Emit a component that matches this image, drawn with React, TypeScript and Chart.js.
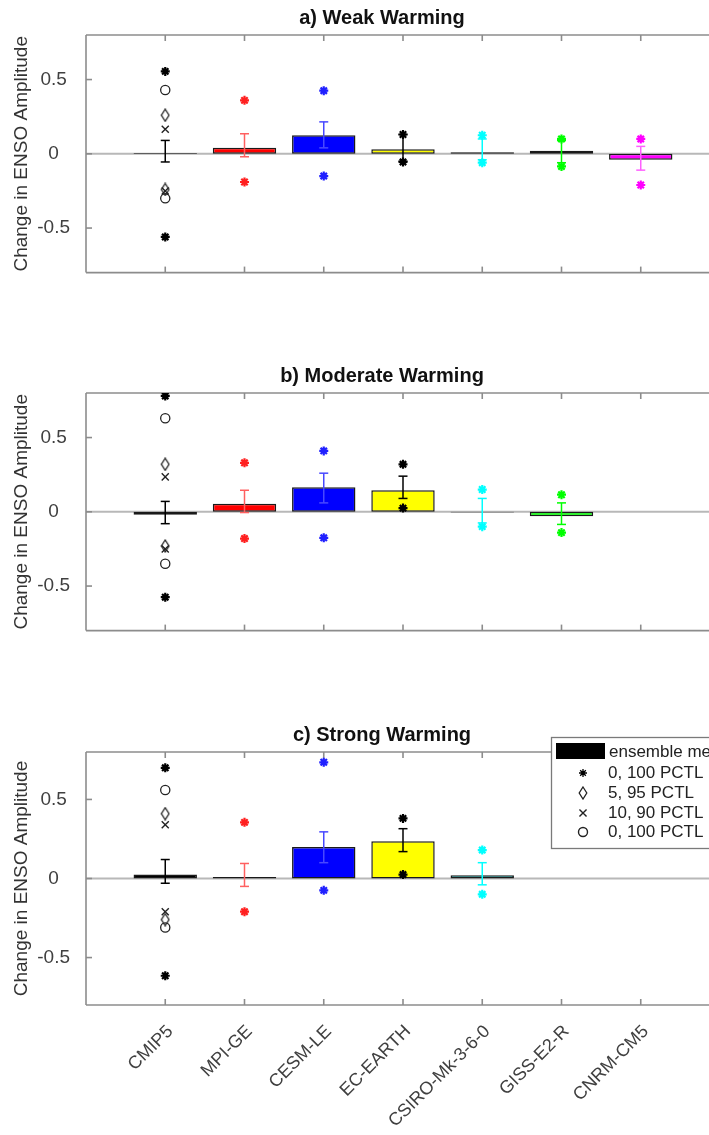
import React, { useEffect, useRef } from 'react';
import { Chart, registerables } from 'chart.js';
import { drawPoint } from 'chart.js/helpers';

Chart.register(...registerables);

// ---------------- data ----------------
const models = ['CMIP5', 'MPI-GE', 'CESM-LE', 'EC-EARTH', 'CSIRO-Mk-3-6-0', 'GISS-E2-R', 'CNRM-CM5'];
const yTickValues = [-0.5, 0, 0.5];
const yMin = -0.8;
const yMax = 0.8;

const barColors = ['#000000', '#ff0000', '#0000ff', '#ffff00', '#00ffff', '#00ff00', '#ff00ff'];
const whiskerColors = ['#000000', '#ff6060', '#4848ff', '#000000', '#00ffff', '#00ff00', '#ff60ff'];
const extremeColors = ['#000000', '#ff2020', '#2020ff', '#000000', '#00ffff', '#00ff00', '#ff00ff'];

// a) Weak warming
const meanWeak = [0.005, 0.04, 0.125, 0.03, 0.01, 0.02, -0.04];
const loWeak = [-0.055, -0.02, 0.04, -0.05, -0.04, -0.06, -0.11];
const hiWeak = [0.09, 0.135, 0.215, 0.13, 0.10, 0.09, 0.05];
const maxWeak = [0.555, 0.36, 0.425, 0.13, 0.125, 0.10, 0.10];
const minWeak = [-0.56, -0.19, -0.15, -0.055, -0.06, -0.085, -0.21];
const circleWeak = [0.43, -0.30];
const diamondWeak = [0.26, -0.24];
const crossWeak = [0.165, -0.25];

// b) Moderate warming
const meanModerate = [-0.02, 0.055, 0.165, 0.145, -0.005, -0.03, null];
const loModerate = [-0.08, -0.005, 0.06, 0.09, -0.075, -0.085, null];
const hiModerate = [0.07, 0.145, 0.26, 0.24, 0.09, 0.06, null];
const maxModerate = [0.78, 0.33, 0.41, 0.32, 0.15, 0.115, null];
const minModerate = [-0.575, -0.18, -0.175, 0.025, -0.10, -0.14, null];
const circleModerate = [0.63, -0.35];
const diamondModerate = [0.32, -0.23];
const crossModerate = [0.235, -0.25];

// c) Strong warming
const meanStrong = [0.025, 0.01, 0.20, 0.235, 0.02, null, null];
const loStrong = [-0.03, -0.05, 0.10, 0.17, -0.04, null, null];
const hiStrong = [0.12, 0.095, 0.295, 0.315, 0.10, null, null];
const maxStrong = [0.70, 0.355, 0.735, 0.38, 0.18, null, null];
const minStrong = [-0.615, -0.21, -0.075, 0.025, -0.10, null, null];
const circleStrong = [0.56, -0.31];
const diamondStrong = [0.41, -0.26];
const crossStrong = [0.34, -0.21];

const titles = ['a) Weak Warming', 'b) Moderate Warming', 'c) Strong Warming'];
const yAxisTitle = 'Change in ENSO Amplitude';
const legendLabels = ['ensemble mean', '0, 100 PCTL', '5, 95 PCTL', '10, 90 PCTL', '0, 100 PCTL'];

// ---------------- styling / layout ----------------
const FONT = '"Liberation Sans", Arial, Helvetica, sans-serif';
Chart.defaults.font.family = FONT;

const xLabels = ['', ...models, ''];
const pad = (arr: any[], fill: any = null) => [fill, ...arr, fill];

type Panel = {
  title: string;
  mean: (number | null)[];
  lo: (number | null)[];
  hi: (number | null)[];
  max: (number | null)[];
  min: (number | null)[];
  circle: number[];
  diamond: number[];
  cross: number[];
  top: number;
  height: number;
  padTop: number;
  padBottom: number;
  xHeight: number;
  showX: boolean;
  legend: boolean;
};

const panels: Panel[] = [
  { title: titles[0], mean: meanWeak, lo: loWeak, hi: hiWeak, max: maxWeak, min: minWeak,
    circle: circleWeak, diamond: diamondWeak, cross: crossWeak,
    top: 0, height: 300, padTop: 35, padBottom: 8, xHeight: 0, showX: false, legend: false },
  { title: titles[1], mean: meanModerate, lo: loModerate, hi: hiModerate, max: maxModerate, min: minModerate,
    circle: circleModerate, diamond: diamondModerate, cross: crossModerate,
    top: 358, height: 300, padTop: 35, padBottom: 9, xHeight: 0, showX: false, legend: false },
  { title: titles[2], mean: meanStrong, lo: loStrong, hi: hiStrong, max: maxStrong, min: minStrong,
    circle: circleStrong, diamond: diamondStrong, cross: crossStrong,
    top: 717, height: 418, padTop: 35, padBottom: 0, xHeight: 130, showX: true, legend: true },
];

let diamondCache: HTMLCanvasElement | null = null;
function diamondImage(): HTMLCanvasElement {
  if (diamondCache) return diamondCache;
  const c = document.createElement('canvas');
  c.width = 10;
  c.height = 14;
  const g = c.getContext('2d')!;
  g.strokeStyle = '#222';
  g.lineWidth = 1.3;
  g.beginPath();
  g.moveTo(5, 1);
  g.lineTo(8.8, 7);
  g.lineTo(5, 13);
  g.lineTo(1.2, 7);
  g.closePath();
  g.stroke();
  diamondCache = c;
  return c;
}

function line(ctx: CanvasRenderingContext2D, x1: number, y1: number, x2: number, y2: number) {
  ctx.beginPath();
  ctx.moveTo(x1, y1);
  ctx.lineTo(x2, y2);
  ctx.stroke();
}

function makePlugin(p: Panel) {
  return {
    id: 'frame',
    beforeDatasetsDraw(chart: any) {
      const { ctx, chartArea: a, scales } = chart;
      const x = scales.x;
      const y = scales.y;
      ctx.save();
      // zero line
      const y0 = y.getPixelForValue(0);
      ctx.strokeStyle = '#b8b8b8';
      ctx.lineWidth = 2;
      line(ctx, a.left, y0, a.right, y0);
      // box (top, left, bottom)
      ctx.strokeStyle = '#8c8c8c';
      ctx.lineWidth = 1.6;
      line(ctx, a.left, a.top, a.right, a.top);
      line(ctx, a.left, a.top, a.left, a.bottom);
      line(ctx, a.left, a.bottom, a.right, a.bottom);
      // inward ticks
      for (let i = 1; i <= models.length; i++) {
        const px = x.getPixelForValue(i);
        line(ctx, px, a.top, px, a.top + 6);
        line(ctx, px, a.bottom, px, a.bottom - 6);
      }
      yTickValues.forEach((v) => {
        const py = y.getPixelForValue(v);
        line(ctx, a.left, py, a.left + 6, py);
      });
      ctx.restore();
    },
    afterDatasetDraw(chart: any, args: any) {
      if (args.meta.type !== 'bar') return;
      const { ctx, scales } = chart;
      const x = scales.x;
      const y = scales.y;
      ctx.save();
      ctx.lineWidth = 1.5;
      p.lo.forEach((lo, i) => {
        const hi = p.hi[i];
        if (lo == null || hi == null) return;
        const px = x.getPixelForValue(i + 1);
        const yl = y.getPixelForValue(lo);
        const yh = y.getPixelForValue(hi);
        ctx.strokeStyle = whiskerColors[i];
        line(ctx, px, yl, px, yh);
        line(ctx, px - 4.5, yl, px + 4.5, yl);
        line(ctx, px - 4.5, yh, px + 4.5, yh);
      });
      ctx.restore();
    },
    afterDraw(chart: any) {
      const { ctx, chartArea: a } = chart;
      ctx.save();
      ctx.fillStyle = '#111';
      ctx.font = `bold 20px ${FONT}`;
      ctx.textAlign = 'center';
      ctx.textBaseline = 'middle';
      ctx.fillText(p.title, 382, a.top - 17);
      ctx.restore();

      if (!p.legend) return;
      const lx = 551;
      const ly = a.top - 15;
      const lw = 220;
      const lh = 111;
      ctx.save();
      ctx.fillStyle = '#ffffff';
      ctx.fillRect(lx, ly, lw, lh);
      ctx.strokeStyle = '#7a7a7a';
      ctx.lineWidth = 1.3;
      ctx.strokeRect(lx + 0.5, ly + 0.5, lw, lh);
      ctx.fillStyle = '#000';
      ctx.fillRect(lx + 5, ly + 6, 49, 16);
      ctx.font = `17px ${FONT}`;
      ctx.textAlign = 'left';
      ctx.textBaseline = 'middle';
      ctx.fillStyle = '#222';
      ctx.fillText(legendLabels[0], lx + 58, ly + 15);
      const rowY = [ly + 36, ly + 56, ly + 76, ly + 95];
      const mx = lx + 32;
      // star
      ctx.strokeStyle = '#000';
      ctx.fillStyle = '#000';
      drawPoint(ctx, { pointStyle: 'star', radius: 4, borderWidth: 2, rotation: 0 } as any, mx, rowY[0]);
      // diamond
      const d = diamondImage();
      ctx.drawImage(d, mx - d.width / 2, rowY[1] - d.height / 2);
      // cross
      ctx.strokeStyle = '#222';
      ctx.lineWidth = 1.4;
      drawPoint(ctx, { pointStyle: 'crossRot', radius: 5, borderWidth: 1.4, rotation: 0 } as any, mx, rowY[2]);
      // circle
      ctx.fillStyle = 'rgba(0,0,0,0)';
      drawPoint(ctx, { pointStyle: 'circle', radius: 4.5, borderWidth: 1.3, rotation: 0 } as any, mx, rowY[3]);
      ctx.fillStyle = '#222';
      for (let i = 1; i < legendLabels.length; i++) {
        ctx.fillText(legendLabels[i], lx + 57, rowY[i - 1]);
      }
      ctx.restore();
    },
  };
}

function buildConfig(p: Panel): any {
  const cmip = models[0];
  const datasets: any[] = [
    {
      type: 'bar',
      data: pad(p.mean),
      backgroundColor: pad(barColors, 'transparent'),
      borderColor: '#1a1a1a',
      borderWidth: 1.5,
      borderSkipped: false,
      barPercentage: 0.8,
      categoryPercentage: 1,
      order: 10,
    },
    {
      type: 'line',
      data: pad(p.max),
      showLine: false,
      pointStyle: 'star',
      pointRadius: 4.5,
      pointBorderWidth: 2.2,
      pointBorderColor: pad(extremeColors, 'transparent'),
      pointBackgroundColor: pad(extremeColors, 'transparent'),
      order: 3,
    },
    {
      type: 'line',
      data: pad(p.min),
      showLine: false,
      pointStyle: 'star',
      pointRadius: 4.5,
      pointBorderWidth: 2.2,
      pointBorderColor: pad(extremeColors, 'transparent'),
      pointBackgroundColor: pad(extremeColors, 'transparent'),
      order: 3,
    },
    {
      type: 'line',
      data: p.circle.map((v) => ({ x: cmip, y: v })),
      showLine: false,
      pointStyle: 'circle',
      pointRadius: 4.6,
      pointBorderWidth: 1.3,
      pointBorderColor: '#222',
      pointBackgroundColor: 'rgba(0,0,0,0)',
      order: 2,
    },
    {
      type: 'line',
      data: p.diamond.map((v) => ({ x: cmip, y: v })),
      showLine: false,
      pointStyle: diamondImage(),
      pointRadius: 5,
      order: 2,
    },
    {
      type: 'line',
      data: p.cross.map((v) => ({ x: cmip, y: v })),
      showLine: false,
      pointStyle: 'crossRot',
      pointRadius: 5,
      pointBorderWidth: 1.4,
      pointBorderColor: '#222',
      order: 2,
    },
  ];

  return {
    type: 'bar',
    data: { labels: xLabels, datasets },
    plugins: [makePlugin(p)],
    options: {
      responsive: false,
      animation: false,
      events: [],
      layout: { padding: { left: 0, right: 40, top: p.padTop, bottom: p.padBottom } },
      plugins: {
        legend: { display: false },
        tooltip: { enabled: false },
        title: { display: false },
      },
      scales: {
        x: {
          type: 'category',
          offset: false,
          grid: { display: false, drawTicks: false },
          border: { display: false },
          ticks: {
            display: p.showX,
            autoSkip: false,
            maxRotation: 45,
            minRotation: 45,
            padding: 16,
            labelOffset: 5,
            color: '#404040',
            font: { size: 18, family: FONT },
          },
          afterFit: (s: any) => {
            s.height = p.xHeight;
          },
        },
        y: {
          type: 'linear',
          min: yMin,
          max: yMax,
          grid: { display: false, drawTicks: false },
          border: { display: false },
          afterBuildTicks: (s: any) => {
            s.ticks = yTickValues.map((v) => ({ value: v }));
          },
          ticks: {
            crossAlign: 'center',
            padding: 16,
            color: '#404040',
            font: { size: 19, family: FONT },
          },
          title: {
            display: true,
            text: yAxisTitle,
            color: '#333',
            font: { size: 19, family: FONT },
            padding: { top: 10, bottom: 0 },
          },
          afterFit: (s: any) => {
            s.width = 86;
          },
        },
      },
    },
  };
}

export default function App() {
  const r0 = useRef<HTMLCanvasElement>(null);
  const r1 = useRef<HTMLCanvasElement>(null);
  const r2 = useRef<HTMLCanvasElement>(null);
  const refs = [r0, r1, r2];

  useEffect(() => {
    const charts = panels.map((p, k) => new Chart(refs[k].current as HTMLCanvasElement, buildConfig(p)));
    return () => charts.forEach((c) => c.destroy());
  }, []);

  return (
    <div
      style={{
        position: 'absolute',
        left: 0,
        top: 0,
        width: 709,
        height: 1135,
        overflow: 'hidden',
        background: '#ffffff',
      }}
    >
      {panels.map((p, k) => (
        <canvas
          key={k}
          ref={refs[k]}
          width={760}
          height={p.height}
          style={{ position: 'absolute', left: 0, top: p.top, width: 760, height: p.height }}
        />
      ))}
    </div>
  );
}
